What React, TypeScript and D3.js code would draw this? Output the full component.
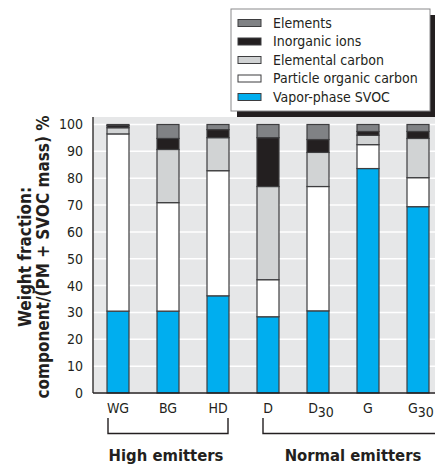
import React from 'react';
import * as d3 from 'd3';

// categories (subscript after "_")
const categories = ['WG', 'BG', 'HD', 'D', 'D_30', 'G', 'G_30'];

// weight fraction %, stacked bottom -> top
const vaporSVOC = [30.5, 30.5, 36.2, 28.4, 30.6, 83.6, 69.4];
const particleOC = [66.0, 40.4, 46.6, 13.8, 46.3, 8.9, 10.8];
const elementalC = [2.3, 19.8, 12.3, 34.7, 12.7, 3.5, 14.6];
const inorganicIons = [0.8, 4.1, 3.0, 18.2, 4.8, 1.4, 2.6];
const elements = [0.4, 5.2, 1.9, 4.9, 5.6, 2.6, 2.6];

const seriesKeys = ['vapor', 'poc', 'ec', 'ions', 'elements'];
const seriesNames = ['Vapor-phase SVOC', 'Particle organic carbon', 'Elemental carbon', 'Inorganic ions', 'Elements'];
const seriesColors = ['#00aeef', '#ffffff', '#d1d3d4', '#231f20', '#808285'];

const yTicks = [0, 10, 20, 30, 40, 50, 60, 70, 80, 90, 100];

const groups = [
  { name: 'High emitters', from: 'WG', to: 'HD' },
  { name: 'Normal emitters', from: 'D', to: 'G_30' },
];

const W = 435;
const H = 464;
const margin = { left: 93, top: 117, bottom: 71 };
const font = "'Liberation Sans Narrow', 'DejaVu Sans Condensed', 'Liberation Sans', sans-serif";

export default function App() {
  const table = categories.map((c, i) => ({
    cat: c,
    vapor: vaporSVOC[i],
    poc: particleOC[i],
    ec: elementalC[i],
    ions: inorganicIons[i],
    elements: elements[i],
  }));
  const stacked = d3.stack<any>().keys(seriesKeys)(table);

  const x = d3.scaleBand().domain(categories).range([margin.left, margin.left + 350])
    .paddingInner(0.56).paddingOuter(0.28);
  const y = d3.scaleLinear().domain([0, 100]).range([H - margin.bottom, 124.5]);

  const legendX = 231;
  const legendY = 9;

  return (
    <svg width={W} height={H} style={{ position: 'absolute', left: 0, top: 0, background: '#fff' }}
      fontFamily={font}>
      {/* plot background */}
      <rect x={margin.left} y={margin.top} width={W - margin.left} height={y(0) - margin.top} fill="#e6e7e8" />
      {yTicks.map(t => (
        <line key={t} x1={margin.left} x2={W} y1={y(t)} y2={y(t)} stroke="#fff" strokeWidth={1.5} />
      ))}

      {/* bars */}
      {stacked.map((s, si) => (
        <g key={s.key} fill={seriesColors[si]}>
          {s.map((d, i) => (
            <rect key={i} x={x(categories[i])} width={x.bandwidth()} y={y(d[1])} height={y(d[0]) - y(d[1])}
              stroke="#3d3d3f" strokeWidth={1.2} />
          ))}
        </g>
      ))}

      {/* axes */}
      <line x1={margin.left} x2={margin.left} y1={margin.top} y2={y(0)} stroke="#231f20" strokeWidth={1.3} />
      <line x1={margin.left} x2={W} y1={y(0)} y2={y(0)} stroke="#231f20" strokeWidth={1.3} />

      {yTicks.map(t => (
        <text key={t} x={83} y={y(t)} dy="0.35em" textAnchor="end" fontSize={14} fill="#231f20">{t}</text>
      ))}

      {categories.map(c => {
        const [base, sub] = c.split('_');
        return (
          <text key={c} x={(x(c) as number) + x.bandwidth() / 2 + (sub ? 3 : 0)} y={413} textAnchor="middle"
            fontSize={14} fill="#231f20">
            {base}
            {sub && <tspan fontSize={14} dy={4}>{sub}</tspan>}
          </text>
        );
      })}

      {/* group brackets */}
      {groups.map((g, gi) => {
        const x0 = (x(g.from) as number) + (gi === 0 ? 1 : 6);
        const x1 = gi === 0 ? (x(g.to) as number) + x.bandwidth() - 1 : W + 5;
        const cx = gi === 0 ? 166 : 353;
        return (
          <g key={g.name}>
            <path d={`M${x0},418V433.5H${x1}V418`} fill="none" stroke="#231f20" strokeWidth={1.4} />
            <text x={cx} y={461} textAnchor="middle" fontSize={16.5} fontWeight="bold" fill="#231f20">{g.name}</text>
          </g>
        );
      })}

      {/* y title */}
      <g transform={`translate(31,257) rotate(-90)`} fontWeight="bold" fontSize={17} fill="#231f20" textAnchor="middle">
        <text x={0} y={0}>Weight fraction:</text>
        <text x={0} y={18}>component/(PM + SVOC mass) %</text>
      </g>

      {/* legend */}
      <rect x={legendX + 6} y={legendY + 6} width={199} height={102} fill="#231f20" />
      <rect x={legendX} y={legendY} width={199} height={102} fill="#fff" stroke="#8a8a8c" strokeWidth={1} />
      {seriesNames.map((n, i) => {
        const j = seriesNames.length - 1 - i;
        const ly = legendY + 14 + j * 18.5;
        return (
          <g key={n}>
            <rect x={legendX + 7} y={ly - 3.5} width={23} height={7} fill={seriesColors[i]} stroke="#3d3d3f" strokeWidth={1} />
            <text x={legendX + 42} y={ly} dy="0.35em" fontSize={14} fill="#231f20">{n}</text>
          </g>
        );
      })}
    </svg>
  );
}
